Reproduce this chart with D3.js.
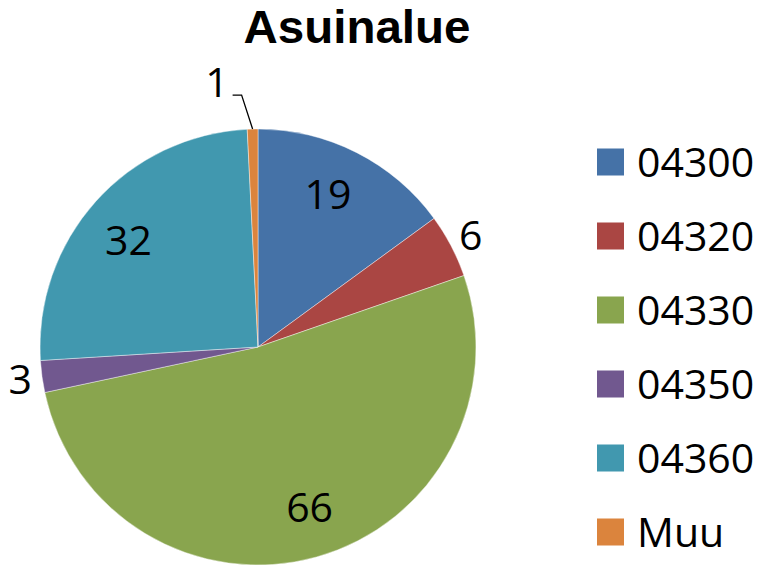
<!doctype html>
<html lang="fi">
<head>
  <meta charset="utf-8">
  <title>Asuinalue</title>
  <script src="https://d3js.org/d3.v7.min.js"></script>
  <style>
    body { margin: 0; background: #fff; }
    svg text { font-family: "Open Sans", "Liberation Sans", sans-serif; fill: #000; }
  </style>
</head>
<body>
<svg id="chart" width="761" height="565"></svg>
<script>
  // data
  const categories = ["04300", "04320", "04330", "04350", "04360", "Muu"];
  const values = [19, 6, 66, 3, 32, 1];
  const colors = ["#4572A7", "#AA4643", "#89A54E", "#71588F", "#4198AF", "#DB843D"];
  const title = "Asuinalue";

  const svg = d3.select("#chart"),
    cx = 258, cy = 347, R = 218;

  const color = d3.scaleOrdinal().domain(categories).range(colors);

  const pie = d3.pie().sort(null).value(d => d.value);
  const rows = categories.map((c, i) => ({ name: c, value: values[i] }));
  const arcs = pie(rows);

  const arc = d3.arc().innerRadius(0).outerRadius(R);
  const g = svg.append("g").attr("transform", "translate(" + cx + "," + cy + ")");

  g.selectAll("path")
    .data(arcs)
    .enter().append("path")
      .attr("d", arc)
      .attr("fill", d => color(d.data.name))
      .attr("stroke", "#fff")
      .attr("stroke-width", 0.6)
      .attr("stroke-opacity", 0.7);

  // labels: big slices inside, small ones outside
  function pt(a, r) { return [Math.sin(a) * r, -Math.cos(a) * r]; }
  const mid = d => (d.startAngle + d.endAngle) / 2;

  arcs.forEach(d => {
    const share = d.value / d3.sum(values);
    let p;
    if (share > 0.1) {
      p = pt(mid(d) - 0.04, 168);
    } else if (d.value > 1) {
      p = pt(mid(d), 240);
    } else {
      // tiny slice: label pulled up and left, with leader line
      const a = mid(d);
      const start = pt(a, R);
      const elbow = [start[0] - 11, start[1] - 34];
      const end = [elbow[0] - 9, elbow[1]];
      g.append("polyline")
        .attr("points", [start, elbow, end].map(q => q.join(",")).join(" "))
        .attr("fill", "none")
        .attr("stroke", "#000")
        .attr("stroke-width", 1.3);
      g.append("text")
        .attr("x", end[0] - 4)
        .attr("y", end[1] + 2)
        .attr("text-anchor", "end")
        .style("font-size", "41px")
        .text(d.value);
      return;
    }
    g.append("text")
      .attr("x", p[0])
      .attr("y", p[1])
      .attr("dy", "0.36em")
      .attr("text-anchor", "middle")
      .style("font-size", "41px")
      .text(d.value);
  });

  // title
  svg.append("text")
    .attr("x", 357)
    .attr("y", 43)
    .attr("text-anchor", "middle")
    .attr("textLength", 227)
    .attr("lengthAdjust", "spacingAndGlyphs")
    .style("font-family", "'Liberation Sans', Arial, sans-serif")
    .style("font-size", "47px")
    .style("font-weight", "bold")
    .text(title);

  // legend
  const ly = d3.scalePoint().domain(categories).range([162, 532]);
  const legend = svg.append("g").selectAll("g")
    .data(categories)
    .enter().append("g")
      .attr("transform", d => "translate(597," + ly(d) + ")");

  legend.append("rect")
    .attr("x", 0).attr("y", -13.5)
    .attr("width", 27).attr("height", 27)
    .attr("fill", d => color(d));

  legend.append("text")
    .attr("x", 40)
    .attr("y", 15)
    .style("font-size", "41px")
    .text(d => d);
</script>
</body>
</html>
